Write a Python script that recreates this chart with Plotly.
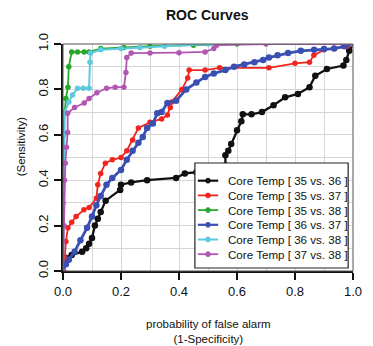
import plotly.graph_objects as go

# ---------------- data ----------------
names = ["Core Temp [ 35 vs. 36 ]", "Core Temp [ 35 vs. 37 ]", "Core Temp [ 35 vs. 38 ]",
         "Core Temp [ 36 vs. 37 ]", "Core Temp [ 36 vs. 38 ]", "Core Temp [ 37 vs. 38 ]"]

x_35_36 = [0, 0.006, 0.03, 0.066, 0.08, 0.09, 0.10, 0.11, 0.12, 0.13, 0.147, 0.197, 0.2, 0.235, 0.29,
           0.39, 0.42, 0.46, 0.50, 0.56, 0.56, 0.57, 0.58, 0.60, 0.615, 0.62, 0.65, 0.686, 0.726, 0.766,
           0.81, 0.85, 0.87, 0.91, 0.967, 0.977, 0.987, 1.0]
y_35_36 = [0, 0.06, 0.07, 0.085, 0.10, 0.12, 0.145, 0.20, 0.23, 0.26, 0.31, 0.357, 0.38, 0.39, 0.40,
           0.41, 0.43, 0.435, 0.445, 0.465, 0.51, 0.53, 0.56, 0.62, 0.66, 0.69, 0.69, 0.70, 0.73, 0.765,
           0.78, 0.81, 0.86, 0.89, 0.905, 0.93, 0.97, 1.0]

x_35_37 = [0, 0.006, 0.01, 0.017, 0.03, 0.045, 0.072, 0.09, 0.115, 0.12, 0.13, 0.146, 0.17, 0.20,
           0.22, 0.24, 0.26, 0.30, 0.34, 0.36, 0.37, 0.375, 0.41, 0.43, 0.435, 0.49, 0.54, 0.71, 0.80,
           0.85, 0.865, 0.90, 0.935, 0.98, 1.0]
y_35_37 = [0, 0.06, 0.13, 0.19, 0.215, 0.24, 0.27, 0.28, 0.32, 0.38, 0.43, 0.475, 0.49, 0.50,
           0.53, 0.577, 0.63, 0.655, 0.67, 0.687, 0.72, 0.745, 0.80, 0.85, 0.885, 0.885, 0.895, 0.895,
           0.915, 0.92, 0.95, 0.975, 0.98, 0.99, 1.0]

x_35_38 = [0, 0, 0, 0.006, 0.01, 0.017, 0.02, 0.03, 0.05, 0.073, 0.09, 0.13, 0.21, 0.30, 0.45, 0.6, 1.0]
y_35_38 = [0, 0.3, 0.6, 0.70, 0.76, 0.81, 0.9, 0.965, 0.965, 0.965, 0.965, 0.98, 0.985, 0.99, 0.995, 1.0, 1.0]

x_36_37 = [0, 0.01, 0.02, 0.04, 0.06, 0.083, 0.10, 0.115, 0.13, 0.15, 0.17, 0.20, 0.22, 0.24, 0.26,
           0.275, 0.29, 0.31, 0.325, 0.34, 0.36, 0.39, 0.425, 0.46, 0.49, 0.52, 0.56, 0.59, 0.625,
           0.66, 0.69, 0.71, 0.74, 0.776, 0.82, 0.866, 0.90, 0.935, 0.97, 1.0]
y_36_37 = [0, 0.03, 0.05, 0.085, 0.135, 0.19, 0.24, 0.29, 0.33, 0.38, 0.41, 0.445, 0.49, 0.53, 0.565,
           0.59, 0.63, 0.65, 0.695, 0.70, 0.74, 0.75, 0.80, 0.83, 0.855, 0.87, 0.885, 0.90, 0.91,
           0.92, 0.93, 0.94, 0.95, 0.96, 0.97, 0.975, 0.978, 0.98, 0.99, 1.0]

x_36_38 = [0, 0.003, 0.006, 0.02, 0.033, 0.05, 0.07, 0.09, 0.093, 0.095, 0.13, 0.20, 0.265, 0.35, 0.5, 1.0]
y_36_38 = [0, 0.6, 0.70, 0.745, 0.775, 0.805, 0.805, 0.805, 0.92, 0.96, 0.975, 0.98, 0.985, 0.99, 1.0, 1.0]

x_37_38 = [0, 0.003, 0.005, 0.008, 0.012, 0.016, 0.016, 0.04, 0.073, 0.09, 0.117, 0.15, 0.18, 0.21,
           0.217, 0.22, 0.235, 0.30, 0.40, 0.49, 0.52, 0.53, 0.7, 1.0]
y_37_38 = [0, 0.2, 0.40, 0.475, 0.545, 0.61, 0.695, 0.72, 0.74, 0.76, 0.785, 0.805, 0.81, 0.81,
           0.875, 0.94, 0.96, 0.96, 0.962, 0.965, 0.98, 0.995, 1.0, 1.0]

xs = [x_35_36, x_35_37, x_35_38, x_36_37, x_36_38, x_37_38]
ys = [y_35_36, y_35_37, y_35_38, y_36_37, y_36_38, y_37_38]

x_ticks = [0.0, 0.2, 0.4, 0.6, 0.8, 1.0]
y_ticks = [0.0, 0.2, 0.4, 0.6, 0.8, 1.0]

# ---------------- style ----------------
colors = ["#111111", "#f0261e", "#27a82a", "#3a4fb2", "#5cc9df", "#b157b3"]
widths = [2.3, 1.8, 1.8, 2.8, 2.0, 1.8]
msizes = [6.5, 5.5, 5.5, 6.5, 5.5, 5.5]
FONT = "Liberation Sans, Arial, sans-serif"

W, H = 373, 346
L, R, T, B = 63, 11, 44, 75
PW, PH = W - L - R, H - T - B


def px(xp):
    return (xp - L) / PW


def py(yp):
    return (H - B - yp) / PH


fig = go.Figure()
for n, x, y, c, w, m in zip(names, xs, ys, colors, widths, msizes):
    fig.add_trace(go.Scatter(x=x, y=y, name=n, mode="lines+markers",
                             line=dict(color=c, width=w),
                             marker=dict(color=c, size=m),
                             showlegend=False))

shapes = []
annotations = []
# plot frame
shapes.append(dict(type="rect", xref="paper", yref="paper", x0=0, x1=1, y0=0, y1=1,
                   line=dict(color="#555555", width=1), layer="above"))

# manual legend (box, samples, labels)
lx0, lx1, ly0, ly1 = 199, 357, 163, 268
shapes.append(dict(type="rect", xref="paper", yref="paper", x0=px(lx0), x1=px(lx1),
                   y0=py(ly1), y1=py(ly0), line=dict(color="#222222", width=1.2),
                   fillcolor="white", layer="above"))
for i, (n, c, w) in enumerate(zip(names, colors, widths)):
    yc = 180.7 + 14.7 * i
    shapes.append(dict(type="line", xref="paper", yref="paper", x0=px(202), x1=px(223),
                       y0=py(yc), y1=py(yc), line=dict(color=c, width=min(w, 2.2)), layer="above"))
    r = 2.4
    shapes.append(dict(type="circle", xref="paper", yref="paper", x0=px(212.5 - r), x1=px(212.5 + r),
                       y0=py(yc + r), y1=py(yc - r), line=dict(color=c, width=1), fillcolor=c,
                       layer="above"))
    annotations.append(dict(text=n, xref="paper", yref="paper", x=px(231.5), y=py(yc),
                            xanchor="left", yanchor="middle", showarrow=False,
                            font=dict(family=FONT, size=11.6, color="#111")))

annotations.append(dict(text="<b>ROC Curves</b>", xref="paper", yref="paper", x=px(212), y=py(15),
                        xanchor="center", yanchor="middle", showarrow=False,
                        font=dict(family=FONT, size=14, color="#111")))
annotations.append(dict(text="probability of false alarm<br>(1-Specificity)", xref="paper", yref="paper",
                        x=px(212.5), y=py(331), xanchor="center", yanchor="middle", showarrow=False,
                        font=dict(family=FONT, size=11.5, color="#111")))
annotations.append(dict(text="(Sensitivity)", xref="paper", yref="paper", x=px(20), y=py(146),
                        xanchor="center", yanchor="middle", textangle=-90, showarrow=False,
                        font=dict(family=FONT, size=11.5, color="#111")))

axis_common = dict(range=[0, 1], showgrid=True, gridcolor="#d6d6d6", gridwidth=1,
                   zeroline=False, showline=True, linecolor="#111", linewidth=1.5,
                   ticks="outside", ticklen=7, tickwidth=1.5, tickcolor="#111",
                   tickfont=dict(family=FONT, size=13, color="#111"),
                   tickformat=".1f", ticklabelstandoff=1,
                   minor=dict(dtick=0.1, showgrid=True, gridcolor="#d6d6d6", gridwidth=1, ticklen=0))

fig.update_layout(
    width=W, height=H, margin=dict(l=L, r=R, t=T, b=B),
    paper_bgcolor="white", plot_bgcolor="white",
    xaxis=dict(tickvals=x_ticks, **axis_common),
    yaxis=dict(tickvals=y_ticks, tickangle=-90, **axis_common),
    shapes=shapes, annotations=annotations, showlegend=False,
)

fig.write_html("out.html")
